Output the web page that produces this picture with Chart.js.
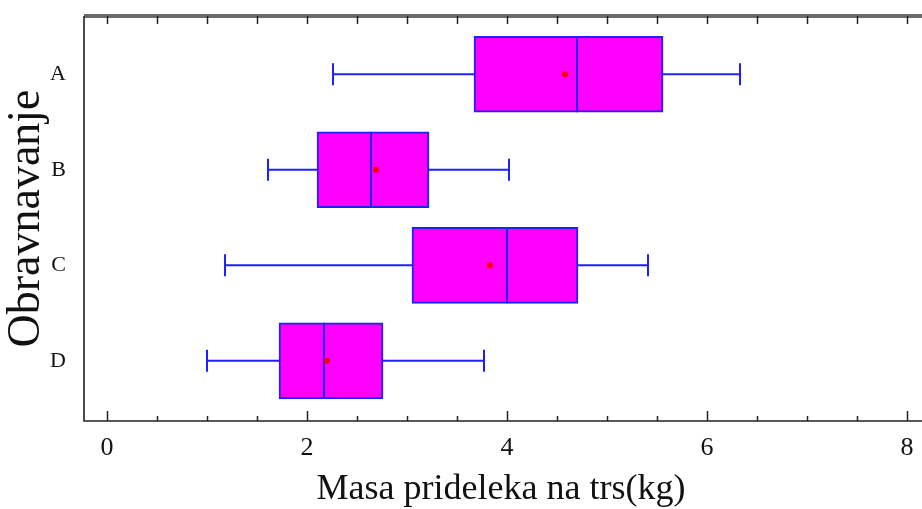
<!DOCTYPE html>
<html>
<head>
<meta charset="utf-8">
<script src="https://cdn.jsdelivr.net/npm/chart.js@4/dist/chart.umd.min.js"></script>
<style>
  html, body { margin: 0; padding: 0; background: #fff; }
  #wrap { width: 922px; height: 509px; }
</style>
</head>
<body>
<div id="wrap"><canvas id="c" width="922" height="509"></canvas></div>
<script>
// Treatments and yield-per-plant summaries (kg)
const categories = ['A', 'B', 'C', 'D'];
const whiskerLow  = [2.26, 1.61, 1.18, 1.00];
const q1          = [3.67, 2.10, 3.05, 1.72];
const median      = [4.70, 2.64, 4.00, 2.17];
const q3          = [5.56, 3.22, 4.71, 2.76];
const whiskerHigh = [6.33, 4.02, 5.41, 3.77];
const mean        = [4.58, 2.69, 3.83, 2.20];
const xTickValues = [0, 0.5, 1, 1.5, 2, 2.5, 3, 3.5, 4, 4.5, 5, 5.5, 6, 6.5, 7, 7.5, 8];
const xLabelValues = [0, 2, 4, 6, 8];

const BOX_FILL = '#ff00ff';
const BLUE = '#2020ff';
const SERIF = "'Liberation Serif', 'Times New Roman', serif";

// Keep the plot area fixed: no extra room for overhanging tick labels
function fixAxis(size, prop) {
  return s => {
    s[prop] = size;
    s.paddingTop = 0; s.paddingBottom = 0; s.paddingLeft = 0; s.paddingRight = 0;
  };
}

// Whiskers, caps, medians and the frame with inward ticks
const boxExtras = {
  id: 'boxExtras',
  beforeDatasetsDraw(chart) {
    const { ctx, scales: { x, y } } = chart;
    ctx.save();
    ctx.strokeStyle = BLUE;
    ctx.lineWidth = 2;
    categories.forEach((c, i) => {
      const yc = y.getPixelForValue(i + 1);
      const cap = 11;
      const xl = x.getPixelForValue(whiskerLow[i]);
      const x1 = x.getPixelForValue(q1[i]);
      const x3 = x.getPixelForValue(q3[i]);
      const xh = x.getPixelForValue(whiskerHigh[i]);
      ctx.beginPath();
      ctx.moveTo(xl, yc); ctx.lineTo(x1, yc);
      ctx.moveTo(x3, yc); ctx.lineTo(xh, yc);
      ctx.moveTo(xl, yc - cap); ctx.lineTo(xl, yc + cap);
      ctx.moveTo(xh, yc - cap); ctx.lineTo(xh, yc + cap);
      ctx.stroke();
    });
    ctx.restore();
  },
  afterDatasetDraw(chart, args) {
    // median line over each box, before the mean markers are drawn
    if (args.index !== 0) return;
    const { ctx, scales: { x, y } } = chart;
    ctx.save();
    ctx.strokeStyle = BLUE;
    ctx.lineWidth = 2;
    ctx.beginPath();
    categories.forEach((c, i) => {
      const yc = y.getPixelForValue(i + 1);
      const xm = x.getPixelForValue(median[i]);
      ctx.moveTo(xm, yc - 38); ctx.lineTo(xm, yc + 38);
    });
    ctx.stroke();
    ctx.restore();
  },
  afterDraw(chart) {
    const { ctx, chartArea: a, scales: { x } } = chart;
    const right = chart.width;
    ctx.save();
    // top frame line
    ctx.strokeStyle = '#6a6a6a';
    ctx.lineWidth = 4;
    ctx.beginPath(); ctx.moveTo(a.left, a.top); ctx.lineTo(right, a.top); ctx.stroke();
    // left and bottom axis lines
    ctx.strokeStyle = '#222';
    ctx.lineWidth = 1.6;
    ctx.beginPath();
    ctx.moveTo(a.left, a.top); ctx.lineTo(a.left, a.bottom); ctx.lineTo(right, a.bottom);
    ctx.stroke();
    // inward ticks on top and bottom
    ctx.lineWidth = 1.5;
    ctx.beginPath();
    xTickValues.forEach(v => {
      const px = Math.round(x.getPixelForValue(v)) + 0.5;
      const major = xLabelValues.includes(v);
      ctx.moveTo(px, a.top); ctx.lineTo(px, a.top + 8);
      ctx.moveTo(px, a.bottom); ctx.lineTo(px, a.bottom - (major ? 10 : 5));
    });
    ctx.stroke();
    ctx.restore();
  }
};

new Chart(document.getElementById('c'), {
  type: 'bar',
  data: {
    datasets: [
      {
        type: 'bar',
        indexAxis: 'y',
        order: 2,
        data: categories.map((c, i) => ({ y: i + 1, x: [q1[i], q3[i]] })),
        backgroundColor: BOX_FILL,
        borderColor: BLUE,
        borderWidth: 2,
        borderSkipped: false,
        barThickness: 76,
        xAxisID: 'x',
        yAxisID: 'y'
      },
      {
        type: 'scatter',
        order: 1,
        data: categories.map((c, i) => ({ x: mean[i], y: i + 1 })),
        backgroundColor: '#ff0000',
        borderColor: '#ff0000',
        borderWidth: 0,
        pointRadius: 3,
        xAxisID: 'x',
        yAxisID: 'y'
      }
    ]
  },
  options: {
    responsive: false,
    animation: false,
    layout: { padding: { top: 16, right: 0, bottom: 0, left: 0 } },
    plugins: { legend: { display: false }, tooltip: { enabled: false } },
    scales: {
      x: {
        type: 'linear',
        axis: 'x',
        position: 'bottom',
        offset: false,
        min: -0.23,
        max: 8.11,
        afterBuildTicks: s => { s.ticks = xTickValues.map(v => ({ value: v })); },
        afterFit: fixAxis(88, 'height'),
        grid: { display: false, drawTicks: false },
        border: { display: false },
        ticks: {
          autoSkip: false,
          maxRotation: 0,
          padding: 12,
          color: '#111',
          font: { family: SERIF, size: 26 },
          callback: v => (xLabelValues.includes(v) ? String(v) : '')
        },
        title: {
          display: true,
          text: 'Masa prideleka na trs(kg)',
          color: '#111',
          font: { family: SERIF, size: 36, lineHeight: 1 },
          padding: { top: 0, bottom: 1 }
        }
      },
      y: {
        type: 'linear',
        axis: 'y',
        position: 'left',
        offset: false,
        reverse: true,
        min: 0.39,
        max: 4.63,
        afterBuildTicks: s => { s.ticks = categories.map((c, i) => ({ value: i + 1 })); },
        afterFit: fixAxis(84, 'width'),
        grid: { display: false, drawTicks: false },
        border: { display: false },
        ticks: {
          autoSkip: false,
          padding: 18,
          color: '#111',
          font: { family: SERIF, size: 22 },
          callback: v => categories[v - 1] || ''
        },
        title: {
          display: true,
          text: 'Obravnavanje',
          color: '#111',
          font: { family: SERIF, size: 46, lineHeight: 1 },
          padding: { top: 4, bottom: 0 }
        }
      }
    }
  },
  plugins: [boxExtras]
});
</script>
</body>
</html>
